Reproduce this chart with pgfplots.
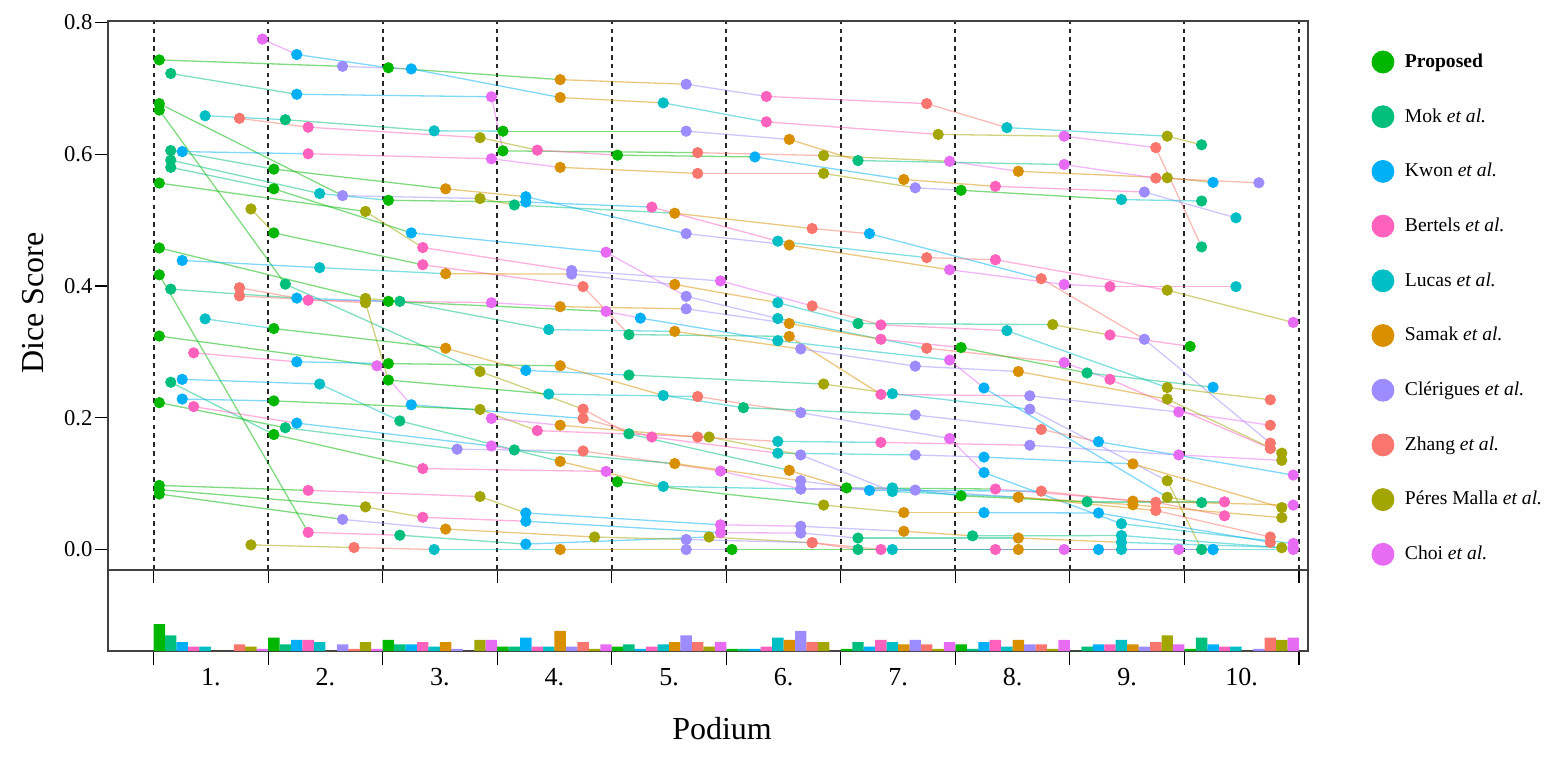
\documentclass[border=0pt]{standalone}
\usepackage{fontspec}
\setmainfont{Liberation Serif}
\usepackage{pgfplots}
\usepackage{pgfplotstable}
\pgfplotsset{compat=1.18}

\definecolor{cP}{HTML}{00B700}
\definecolor{cMok}{HTML}{00BF7D}
\definecolor{cKwon}{HTML}{00B0F6}
\definecolor{cBert}{HTML}{FF62BC}
\definecolor{cLucas}{HTML}{00BFC4}
\definecolor{cSamak}{HTML}{D89000}
\definecolor{cCler}{HTML}{9C8CFF}
\definecolor{cZhang}{HTML}{F8766D}
\definecolor{cPeres}{HTML}{A3A500}
\definecolor{cChoi}{HTML}{E76BF3}

\pgfplotsset{colormap={methods}{rgb255=(0,183,0) rgb255=(0,191,125) rgb255=(0,176,246) rgb255=(255,98,188) rgb255=(0,191,196) rgb255=(216,144,0) rgb255=(156,140,255) rgb255=(248,118,109) rgb255=(163,165,0) rgb255=(231,107,243)}}

% method index m: 0 Proposed, 1 Mok, 2 Kwon, 3 Bertels, 4 Lucas, 5 Samak, 6 Clerigues, 7 Zhang, 8 Peres Malla, 9 Choi
% x = podium place - 1 + 0.05 + 0.1 m ; y = Dice score ; one table per test case
\pgfplotstableread{
x y m
0.95 0.7745 9
1.25 0.7511 2
2.05 0.7310 0
3.55 0.7130 5
4.65 0.7060 6
5.35 0.6875 3
6.75 0.6766 7
7.45 0.6402 4
8.85 0.6272 8
9.15 0.6141 1
}\caseA
\pgfplotstableread{
x y m
0.05 0.7429 0
1.65 0.7332 6
2.25 0.7293 2
3.55 0.6859 5
4.45 0.6777 4
5.35 0.6489 3
6.85 0.6299 8
7.95 0.6272 9
8.75 0.6098 7
9.15 0.4592 1
}\caseB
\pgfplotstableread{
x y m
0.15 0.7223 1
1.25 0.6908 2
2.95 0.6870 9
3.05 0.6049 0
4.75 0.6022 7
5.85 0.5978 8
6.95 0.5891 9
7.55 0.5739 5
8.85 0.5641 8
9.25 0.5571 2
}\caseC
\pgfplotstableread{
x y m
0.05 0.6766 0
1.65 0.5370 6
2.85 0.5326 8
3.15 0.5228 1
4.55 0.5103 5
5.75 0.4870 7
6.25 0.4793 2
7.75 0.4109 7
8.65 0.3190 6
9.75 0.1614 7
}\caseD
\pgfplotstableread{
x y m
0.05 0.6668 0
1.15 0.4027 1
2.85 0.2701 8
3.75 0.2130 7
4.15 0.1755 1
5.55 0.1201 5
6.05 0.0935 0
7.35 0.0918 3
8.75 0.0717 7
9.35 0.0511 3
}\caseE
\pgfplotstableread{
x y m
0.45 0.6582 4
1.15 0.6522 1
2.45 0.6353 4
3.05 0.6348 0
4.65 0.6348 6
5.55 0.6223 5
6.15 0.5902 1
7.95 0.5842 9
8.75 0.5636 7
9.65 0.5565 6
}\caseF
\pgfplotstableread{
x y m
0.75 0.6543 7
1.35 0.6408 3
2.85 0.6250 8
3.35 0.6060 3
4.05 0.5984 0
5.25 0.5957 2
6.55 0.5614 5
7.35 0.5511 3
8.65 0.5424 6
9.45 0.5033 4
}\caseG
\pgfplotstableread{
x y m
0.15 0.6054 1
1.05 0.5772 0
2.55 0.5473 5
3.25 0.5353 2
4.65 0.4793 6
5.55 0.4620 5
6.95 0.4245 9
7.95 0.4022 9
8.35 0.3989 3
9.45 0.3989 4
}\caseH
\pgfplotstableread{
x y m
0.25 0.6038 2
1.35 0.6005 3
2.95 0.5929 9
3.55 0.5799 5
4.75 0.5707 7
5.85 0.5707 8
6.65 0.5489 6
7.05 0.5451 0
8.45 0.5310 4
9.15 0.5288 1
}\caseI
\pgfplotstableread{
x y m
0.15 0.5908 1
1.45 0.5402 4
2.05 0.5299 0
3.25 0.5272 2
4.35 0.5196 3
5.45 0.4679 4
6.75 0.4429 7
7.35 0.4397 3
8.85 0.3935 8
9.95 0.3446 9
}\caseJ
\pgfplotstableread{
x y m
0.15 0.5799 1
1.05 0.5473 0
2.25 0.4804 2
3.95 0.4511 9
4.65 0.3842 6
5.45 0.3505 4
6.75 0.3054 7
7.95 0.2837 9
8.35 0.2582 3
9.75 0.1533 7
}\caseK
\pgfplotstableread{
x y m
0.05 0.5560 0
1.85 0.5130 8
2.35 0.4582 3
3.65 0.4234 6
4.95 0.4076 9
5.75 0.3696 7
6.35 0.3408 3
7.45 0.3321 4
8.85 0.2457 8
9.75 0.2272 7
}\caseL
\pgfplotstableread{
x y m
0.85 0.5168 8
1.05 0.4804 0
2.35 0.4321 3
3.75 0.3989 7
4.15 0.3261 1
5.55 0.3234 5
6.35 0.2353 3
7.65 0.2332 6
8.95 0.2087 9
9.75 0.1886 7
}\caseM
\pgfplotstableread{
x y m
0.05 0.4576 0
1.85 0.3810 8
2.15 0.3766 1
3.45 0.3337 4
4.55 0.3310 5
5.65 0.3043 6
6.65 0.2783 6
7.55 0.2701 5
8.85 0.2283 8
9.85 0.1462 8
}\caseN
\pgfplotstableread{
x y m
0.25 0.4386 2
1.45 0.4277 4
2.55 0.4185 5
3.65 0.4179 6
4.55 0.4022 5
5.45 0.3745 4
6.15 0.3429 1
7.85 0.3413 8
8.35 0.3255 3
9.05 0.3082 0
}\caseO
\pgfplotstableread{
x y m
0.05 0.4168 0
1.35 0.0260 3
2.15 0.0217 1
3.25 0.0082 2
4.85 0.0190 8
5.75 0.0103 7
6.15 0.0000 1
7.35 0.0000 3
8.25 0.0000 2
9.25 0.0000 2
}\caseP
\pgfplotstableread{
x y m
0.75 0.3973 7
1.35 0.3783 3
2.95 0.3745 9
3.55 0.3685 5
4.65 0.3652 6
5.55 0.3429 5
6.35 0.3190 3
7.05 0.3065 0
8.15 0.2679 1
9.25 0.2462 2
}\caseQ
\pgfplotstableread{
x y m
0.15 0.3951 1
1.25 0.3815 2
2.05 0.3766 0
3.95 0.3614 9
4.25 0.3511 2
5.45 0.3168 4
6.95 0.2875 9
7.25 0.2451 2
8.85 0.0793 8
9.15 0.0712 1
}\caseR
\pgfplotstableread{
x y m
0.75 0.3848 7
1.85 0.3745 8
2.05 0.2571 0
3.45 0.2359 4
4.75 0.2321 7
5.65 0.2076 6
6.95 0.1685 9
7.25 0.1168 2
8.45 0.0391 4
9.95 0.0092 9
}\caseS
\pgfplotstableread{
x y m
0.45 0.3500 4
1.05 0.3353 0
2.55 0.3054 5
3.25 0.2717 2
4.15 0.2647 1
5.85 0.2511 8
6.45 0.2364 4
7.65 0.2130 6
8.85 0.1043 8
9.15 0.0000 1
}\caseT
\pgfplotstableread{
x y m
0.05 0.3239 0
1.95 0.2788 9
2.25 0.2196 2
3.75 0.1989 7
4.35 0.1707 3
5.45 0.1462 4
6.65 0.1435 6
7.25 0.1402 2
8.55 0.1299 5
9.85 0.0636 8
}\caseU
\pgfplotstableread{
x y m
0.35 0.2984 3
1.25 0.2848 2
2.05 0.2821 0
3.55 0.2788 5
4.45 0.2337 4
5.15 0.2152 1
6.65 0.2043 6
7.75 0.1821 7
8.25 0.1636 2
9.95 0.1130 9
}\caseV
\pgfplotstableread{
x y m
0.25 0.2582 2
1.45 0.2511 4
2.15 0.1951 1
3.55 0.1337 5
4.45 0.0957 4
5.65 0.0918 6
6.65 0.0902 6
7.55 0.0793 5
8.55 0.0679 5
9.85 0.0484 8
}\caseW
\pgfplotstableread{
x y m
0.15 0.2538 1
1.05 0.1745 0
2.35 0.1228 3
3.95 0.1185 9
4.05 0.1027 0
5.85 0.0674 8
6.55 0.0560 5
7.25 0.0560 2
8.25 0.0554 2
9.75 0.0109 7
}\caseX
\pgfplotstableread{
x y m
0.25 0.2283 2
1.05 0.2255 0
2.85 0.2125 8
3.35 0.1804 3
4.85 0.1707 8
5.65 0.1435 6
6.45 0.0880 4
7.55 0.0793 5
8.75 0.0592 7
9.75 0.0190 7
}\caseY
\pgfplotstableread{
x y m
0.05 0.2228 0
1.15 0.1848 1
2.65 0.1522 6
3.75 0.1495 7
4.95 0.1190 9
5.65 0.0918 6
6.45 0.0935 4
7.05 0.0815 0
8.15 0.0723 1
9.35 0.0723 3
}\caseZ
\pgfplotstableread{
x y m
0.35 0.2168 3
1.25 0.1918 2
2.95 0.1571 9
3.15 0.1511 1
4.55 0.1304 5
5.65 0.1043 6
6.25 0.0897 2
7.75 0.0886 7
8.55 0.0734 5
9.95 0.0674 9
}\caseAA
\pgfplotstableread{
x y m
0.05 0.0973 0
1.35 0.0897 3
2.85 0.0804 8
3.25 0.0554 2
4.95 0.0375 9
5.65 0.0353 6
6.55 0.0277 5
7.15 0.0207 1
8.45 0.0212 4
9.85 0.0027 8
}\caseAB
\pgfplotstableread{
x y m
0.05 0.0908 0
1.85 0.0647 8
2.35 0.0489 3
3.25 0.0429 2
4.95 0.0255 9
5.65 0.0250 6
6.15 0.0174 1
7.55 0.0174 5
8.45 0.0109 4
9.95 0.0027 9
}\caseAC
\pgfplotstableread{
x y m
0.05 0.0842 0
1.65 0.0457 6
2.55 0.0310 5
3.85 0.0190 8
4.65 0.0152 6
5.75 0.0103 7
6.35 0.0000 3
7.55 0.0000 5
8.45 0.0000 4
9.95 0.0000 9
}\caseAD
\pgfplotstableread{
x y m
0.85 0.0070 8
1.75 0.0030 7
2.45 0.0000 4
3.55 0.0000 5
4.65 0.0000 6
5.05 0.0000 0
6.45 0.0000 4
7.95 0.0000 9
8.95 0.0000 9
9.25 0.0000 2
}\caseAE
\pgfplotstableread{
x y m
2.95 0.1989 9
3.55 0.1886 5
4.75 0.1707 7
5.45 0.1641 4
6.35 0.1625 3
7.65 0.1582 6
8.95 0.1435 9
9.85 0.1353 8
}\caseAF

\newcommand\caseline[1]{\addplot[mesh, shader=flat corner, point meta=explicit, line width=0.65pt, opacity=0.5, forget plot] table[x=x,y=y,meta=m]{#1};}
\newcommand\casedots[1]{\addplot[scatter, only marks, mark=*, mark size=2.6pt, point meta=explicit, scatter/use mapped color={draw=mapped color, fill=mapped color}, forget plot] table[x=x,y=y,meta=m]{#1};}

\begin{document}
\begin{tikzpicture}
\path[use as bounding box] (0,0) rectangle (781.5pt,378pt);
\begin{axis}[
  at={(54pt,93pt)}, anchor=south west, scale only axis,
  width=600pt, height=274.5pt,
  xmin=-0.398, xmax=10.079, ymin=-0.0311, ymax=0.802,
  xtick={0,...,10}, xticklabels={},
  ytick={0,0.2,0.4,0.6,0.8},
  yticklabel style={font=\fontsize{11.3}{13}\selectfont, xshift=2.2pt, /pgf/number format/.cd, fixed, fixed zerofill, precision=1, assume math mode=true},
  xmajorgrids,
  major grid style={black!85, line width=1pt, dash pattern=on 2.3pt off 2.1pt},
  tick align=outside, tick pos=left, major tick length=6.5pt,
  tick style={black, line width=0.6pt},
  axis line style={black!75, line width=0.7pt},
  colormap name=methods, point meta min=0, point meta max=9,
  ylabel={Dice Score},
  ylabel style={font=\fontsize{16}{19}\selectfont, at={(axis description cs:-0.0625,0.486)}, anchor=center},
  legend cell align=left,
  legend image code/.code={\draw[#1] plot coordinates {(0pt,0pt)};},
  legend style={at={(axis description cs:1.0533,0.9751)}, anchor=north west, draw=none, fill=none,
    inner sep=0pt, outer sep=0pt, row sep=0pt, column sep=5.5pt,
    font=\fontsize{9.8}{11}\selectfont,
    nodes={minimum height=27.35pt, inner sep=0pt, anchor=west}},
]
\addlegendimage{only marks, mark=*, mark size=5.5pt, color=cP}
\addlegendentry{\textbf{Proposed}}
\addlegendimage{only marks, mark=*, mark size=5.5pt, color=cMok}
\addlegendentry{Mok \textit{et al.}}
\addlegendimage{only marks, mark=*, mark size=5.5pt, color=cKwon}
\addlegendentry{Kwon \textit{et al.}}
\addlegendimage{only marks, mark=*, mark size=5.5pt, color=cBert}
\addlegendentry{Bertels \textit{et al.}}
\addlegendimage{only marks, mark=*, mark size=5.5pt, color=cLucas}
\addlegendentry{Lucas \textit{et al.}}
\addlegendimage{only marks, mark=*, mark size=5.5pt, color=cSamak}
\addlegendentry{Samak \textit{et al.}}
\addlegendimage{only marks, mark=*, mark size=5.5pt, color=cCler}
\addlegendentry{Clérigues \textit{et al.}}
\addlegendimage{only marks, mark=*, mark size=5.5pt, color=cZhang}
\addlegendentry{Zhang \textit{et al.}}
\addlegendimage{only marks, mark=*, mark size=5.5pt, color=cPeres}
\addlegendentry{Péres Malla\ \textit{et al.}}
\addlegendimage{only marks, mark=*, mark size=5.5pt, color=cChoi}
\addlegendentry{Choi \textit{et al.}}

\caseline\caseA \caseline\caseB \caseline\caseC \caseline\caseD
\caseline\caseE \caseline\caseF \caseline\caseG \caseline\caseH
\caseline\caseI \caseline\caseJ \caseline\caseK \caseline\caseL
\caseline\caseM \caseline\caseN \caseline\caseO \caseline\caseP
\caseline\caseQ \caseline\caseR \caseline\caseS \caseline\caseT
\caseline\caseU \caseline\caseV \caseline\caseW \caseline\caseX
\caseline\caseY \caseline\caseZ \caseline\caseAA \caseline\caseAB
\caseline\caseAC \caseline\caseAD \caseline\caseAE \caseline\caseAF

\casedots\caseA \casedots\caseB \casedots\caseC \casedots\caseD
\casedots\caseE \casedots\caseF \casedots\caseG \casedots\caseH
\casedots\caseI \casedots\caseJ \casedots\caseK \casedots\caseL
\casedots\caseM \casedots\caseN \casedots\caseO \casedots\caseP
\casedots\caseQ \casedots\caseR \casedots\caseS \casedots\caseT
\casedots\caseU \casedots\caseV \casedots\caseW \casedots\caseX
\casedots\caseY \casedots\caseZ \casedots\caseAA \casedots\caseAB
\casedots\caseAC \casedots\caseAD \casedots\caseAE \casedots\caseAF
\end{axis}

\begin{axis}[
  at={(54pt,52.5pt)}, anchor=south west, scale only axis,
  width=600pt, height=40.5pt,
  xmin=-0.398, xmax=10.079, ymin=0, ymax=36,
  ytick=\empty,
  xtick={0.5,1.5,2.5,3.5,4.5,5.5,6.5,7.5,8.5,9.5},
  xticklabels={1.,2.,3.,4.,5.,6.,7.,8.,9.,10.},
  xticklabel style={font=\fontsize{13}{15}\selectfont, yshift=-5pt},
  minor xtick={0,1,2,3,4,5,6,7,8,9,10},
  tick align=outside, xtick pos=bottom,
  major tick length=0pt, minor tick length=7pt,
  tick style={black, line width=0.6pt},
  axis line style={black!75, line width=0.7pt},
  xlabel={Podium},
  xlabel style={font=\fontsize{16}{19}\selectfont, at={(axis description cs:0.5117,-0.963)}, anchor=center},
  every axis plot/.append style={ybar, bar width=0.1, bar shift=0pt, draw=none},
]
\addplot[fill=cP] coordinates {(0.05,12) (1.05,6) (2.05,5) (3.05,2) (4.05,2) (5.05,1) (6.05,1) (7.05,3) (8.05,0) (9.05,1)};
\addplot[fill=cMok] coordinates {(0.15,7) (1.15,3) (2.15,3) (3.15,2) (4.15,3) (5.15,1) (6.15,4) (7.15,1) (8.15,2) (9.15,6)};
\addplot[fill=cKwon] coordinates {(0.25,4) (1.25,5) (2.25,3) (3.25,6) (4.25,1) (5.25,1) (6.25,2) (7.25,4) (8.25,3) (9.25,3)};
\addplot[fill=cBert] coordinates {(0.35,2) (1.35,5) (2.35,4) (3.35,2) (4.35,2) (5.35,2) (6.35,5) (7.35,5) (8.35,3) (9.35,2)};
\addplot[fill=cLucas] coordinates {(0.45,2) (1.45,4) (2.45,2) (3.45,2) (4.45,3) (5.45,6) (6.45,4) (7.45,2) (8.45,5) (9.45,2)};
\addplot[fill=cSamak] coordinates {(0.55,0) (1.55,0) (2.55,4) (3.55,9) (4.55,4) (5.55,5) (6.55,3) (7.55,5) (8.55,3) (9.55,0)};
\addplot[fill=cCler] coordinates {(0.65,0) (1.65,3) (2.65,1) (3.65,2) (4.65,7) (5.65,9) (6.65,5) (7.65,3) (8.65,2) (9.65,1)};
\addplot[fill=cZhang] coordinates {(0.75,3) (1.75,1) (2.75,0) (3.75,4) (4.75,4) (5.75,4) (6.75,3) (7.75,3) (8.75,4) (9.75,6)};
\addplot[fill=cPeres] coordinates {(0.85,2) (1.85,4) (2.85,5) (3.85,1) (4.85,2) (5.85,4) (6.85,1) (7.85,1) (8.85,7) (9.85,5)};
\addplot[fill=cChoi] coordinates {(0.95,1) (1.95,1) (2.95,5) (3.95,3) (4.95,4) (5.95,0) (6.95,4) (7.95,5) (8.95,3) (9.95,6)};
\end{axis}
\end{tikzpicture}
\end{document}
